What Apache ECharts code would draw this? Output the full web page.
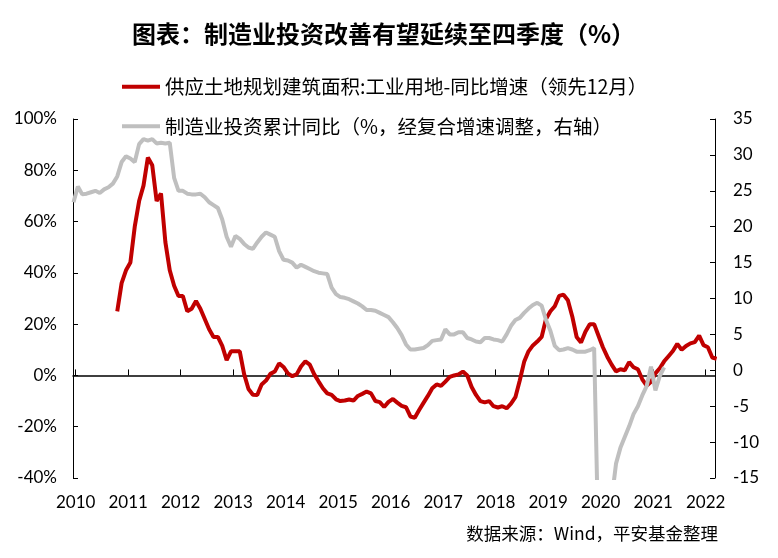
<!DOCTYPE html>
<html><head><meta charset="utf-8">
<script src="https://cdn.jsdelivr.net/npm/echarts@6/dist/echarts.min.js"></script>
<style>html,body{margin:0;padding:0;background:#fff}#c{width:778px;height:558px}</style>
</head><body><div id="c"></div>
<script>
// ---- data ----
const titleText = '图表：制造业投资改善有望延续至四季度（%）';
const redName = '供应土地规划建筑面积:工业用地-同比增速（领先12月）';
const grayName = '制造业投资累计同比（%，经复合增速调整，右轴）';
const sourceText = '数据来源：Wind，平安基金整理';
const yearTicks = [2010, 2011, 2012, 2013, 2014, 2015, 2016, 2017, 2018, 2019, 2020, 2021, 2022];

// monthly, starting 2010-10 (left axis, %)
const redStart = [2010, 10];
const redValues = [
  25, 36, 41,
  44, 58, 68, 74, 85, 82, 68, 71, 52, 41, 35, 31,
  31, 25, 26, 29, 26, 22, 18, 15, 15, 11.5, 6, 9.4,
  9.4, 9.4, 0.5, -5.3, -7.5, -7.6, -3.5, -2, 0.6, 1.5, 4.7, 3.3,
  0.8, -0.3, 0.4, 3.5, 5.5, 4.2, 0.5, -2.3, -5, -7, -7.6, -9.3,
  -10, -9.8, -9.4, -9.8, -8, -7.2, -6.3, -7, -10, -10.4, -12.3, -10.3,
  -9.2, -10.6, -11.9, -12.4, -16, -16.5, -13.5, -10.7, -8, -5, -3.5, -4.1,
  -2.4, -0.6, 0, 0.4, 1.5, 0, -4.5, -7.6, -10, -10.5, -10, -12,
  -12.5, -12, -12.8, -11, -8.5, -2, 5.3, 9.4, 11.7, 13.2, 15, 22,
  25, 27, 31, 31.5, 29.3, 23, 15, 12.8, 17, 20, 20, 15.5,
  11, 7.3, 4.2, 1.6, 2.4, 2, 5.2, 3.2, 2.4, -1.5, -4, -2.5,
  0.8, 2.8, 5.5, 7.5, 9.5, 12.3, 10, 11.5, 12.5, 13, 15.5, 11.8,
  11, 7, 6.5
];

// monthly, starting 2009-12 (right axis)
const grayStart = [2009, 12];
const grayValues = [
  23.4,
  25.6, 24.5, 24.6, 24.8, 25.0, 24.7, 25.2, 25.5, 26.0, 27.0, 29.0, 29.8,
  29.5, 29.0, 31.5, 32.2, 32.0, 32.2, 31.6, 31.7, 31.6, 31.7, 26.8, 25.0,
  25.0, 24.6, 24.5, 24.5, 24.6, 24.1, 23.4, 23.0, 22.6, 21.0, 18.6, 17.2,
  18.7, 18.3, 17.6, 17.1, 16.9, 17.8, 18.6, 19.2, 18.9, 18.6, 16.6, 15.4,
  15.3, 15.0, 14.3, 14.7, 14.4, 14.1, 13.8, 13.6, 13.5, 13.4, 11.5, 10.6,
  10.2, 10.1, 9.9, 9.6, 9.3, 8.9, 8.4, 8.4, 8.3, 8.0, 7.7, 7.4,
  6.7, 5.9, 4.9, 3.6, 2.9, 2.9, 3.0, 3.1, 3.5, 4.1, 4.2, 4.3,
  5.7, 5.0, 5.0, 5.3, 5.3, 4.5, 4.3, 4.0, 3.9, 4.5, 4.5, 4.3,
  4.2, 4.0, 5.0, 6.2, 7.0, 7.3, 8.0, 8.6, 9.1, 9.4, 9.0, 7.0,
  5.5, 3.4, 2.8, 2.9, 3.1, 2.9, 2.6, 2.6, 2.6, 2.8, 3.1, -25,
  -26, -22.5, -18, -13, -10.8, -9.3, -7.8, -6.1, -5.0, -3.5, -2.2, 0.5,
  -2.8, -0.8, 0.4
];

const xMin = 2009.949;
const xMax = 2022.177;

function monthly(start, vals) {
  return vals.map(function (v, i) {
    const idx = (start[1] - 1) + i;
    const y = start[0] + Math.floor(idx / 12);
    const m = idx % 12;
    return [y + (m + 0.5) / 12, v];
  });
}

const CJK = '"Noto Sans CJK SC", "Noto Sans", sans-serif';
const NUM = 'Lato, "Noto Sans", sans-serif';

const chart = echarts.init(document.getElementById('c'), null, { renderer: 'canvas' });
chart.setOption({
  animation: false,
  backgroundColor: '#ffffff',
  title: {
    text: titleText, left: 127, top: 17,
    textStyle: { fontFamily: CJK, fontSize: 24, fontWeight: 'bold', color: '#000' }
  },
  legend: {
    orient: 'vertical', left: 117, top: 72,
    itemWidth: 38, itemHeight: 4, itemGap: 20, icon: 'rect',
    textStyle: { fontFamily: CJK, fontSize: 19.5, color: '#000' },
    data: [redName, grayName]
  },
  grid: { left: 73, right: 63, top: 119, bottom: 80 },
  xAxis: [
    {
      type: 'value', min: xMin, max: xMax, position: 'bottom',
      axisLine: { show: true, onZero: true, onZeroAxisIndex: 0, lineStyle: { color: '#000', width: 1.5 } },
      axisTick: { show: true, inside: true, length: 6, customValues: yearTicks, lineStyle: { color: '#000' } },
      axisLabel: { show: false },
      splitLine: { show: false }
    },
    {
      type: 'value', min: xMin, max: xMax, position: 'bottom',
      axisLine: { show: false, onZero: false },
      axisTick: { show: false },
      axisLabel: {
        customValues: yearTicks, formatter: function (v) { return String(Math.round(v)); },
        margin: 16, fontFamily: NUM, fontSize: 17, color: '#000'
      },
      splitLine: { show: false }
    }
  ],
  yAxis: [
    {
      type: 'value', min: -40, max: 100, interval: 20, position: 'left',
      axisLine: { show: true, onZero: false, lineStyle: { color: '#000' } },
      axisTick: { show: true, inside: true, length: 5, lineStyle: { color: '#000' } },
      axisLabel: { formatter: '{value}%', margin: 16, fontFamily: NUM, fontSize: 17, color: '#000' },
      splitLine: { show: false }
    },
    {
      type: 'value', min: -15, max: 35, interval: 5, position: 'right',
      axisLine: { show: true, onZero: false, lineStyle: { color: '#000' } },
      axisTick: { show: true, inside: true, length: 5, lineStyle: { color: '#000' } },
      axisLabel: { margin: 18, fontFamily: NUM, fontSize: 17, color: '#000' },
      splitLine: { show: false }
    }
  ],
  series: [
    {
      name: redName, type: 'line', xAxisIndex: 0, yAxisIndex: 0,
      data: monthly(redStart, redValues), showSymbol: false, symbol: 'none',
      lineStyle: { color: '#C00000', width: 4 }, itemStyle: { color: '#C00000' }
    },
    {
      name: grayName, type: 'line', xAxisIndex: 0, yAxisIndex: 1,
      data: monthly(grayStart, grayValues), showSymbol: false, symbol: 'none',
      lineStyle: { color: '#BFBFBF', width: 4 }, itemStyle: { color: '#BFBFBF' }
    }
  ],
  graphic: [
    {
      type: 'text', right: 60, top: 525,
      style: { text: sourceText, font: '17.5px "Noto Sans CJK SC"', fill: '#000' }
    }
  ]
});
</script></body></html>
